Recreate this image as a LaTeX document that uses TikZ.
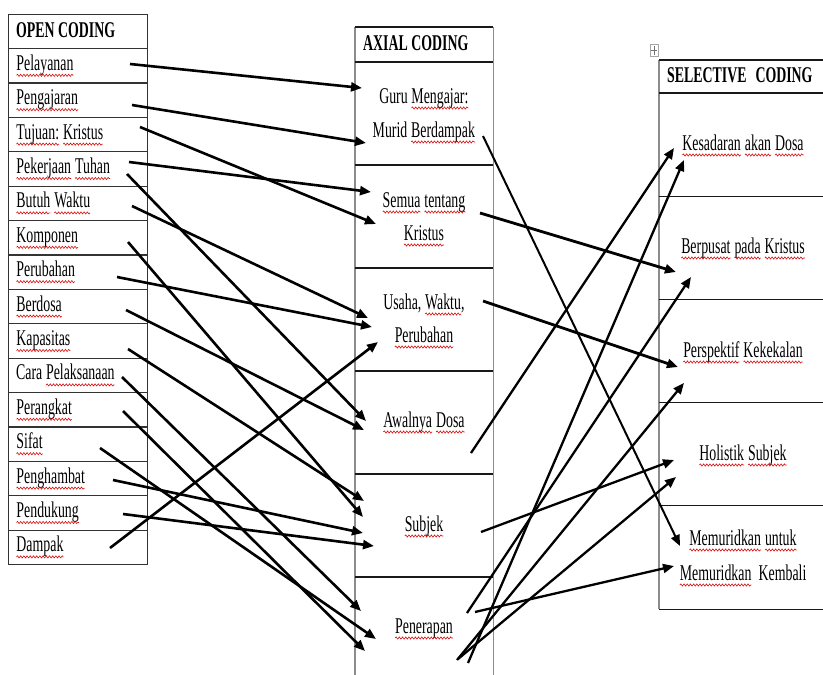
\documentclass[tikz,border=0pt]{standalone}
\usepackage{fontspec}
\setmainfont{Liberation Serif}[FakeStretch=0.616]
\usetikzlibrary{arrows.meta,decorations.pathmorphing}
\newcommand\sq[1]{\tikz[baseline=(sqw.base)]{\node[inner sep=0pt, outer sep=0pt, anchor=base, draw=none, fill=none] (sqw) {#1};\draw[red!85!black, line width=0.55pt, decorate, decoration={snake, amplitude=1.1pt, segment length=3.2pt}] ([yshift=-5pt]sqw.base west) -- ([yshift=-5pt]sqw.base east);}}
\tikzset{
  txt/.style={inner sep=0pt, font=\fontsize{22.5}{34}\selectfont, text=black},
  ltxt/.style={txt, anchor=base west},
  ctxt/.style={txt, anchor=base},
  hdtxt/.style={txt, anchor=base west, font=\fontsize{22.5}{34}\selectfont\bfseries},
  lcell/.style={draw=black!80, line width=1.1pt, anchor=north west, minimum width=139pt, minimum height=34.4pt, inner sep=0pt},
  shell/.style={draw=none, anchor=north west, inner sep=0pt},
  hline/.style={draw=black!90, line width=1.1pt},
  vline/.style={draw=black!45, line width=1.1pt},
  arr/.style={draw=black, line width=2.6pt, -{Triangle[length=11pt,width=9pt]}},
  arrR/.style={draw=black, line width=2.3pt, -{Triangle[length=11pt,width=9pt]}},
}
\begin{document}
\begin{tikzpicture}[x=1pt,y=-1pt]
\useasboundingbox (0,0) rectangle (823,675);
\clip (0,0) rectangle (823,675);
\fill[white] (0,0) rectangle (823,675);

% ---------- left table ----------
\node[lcell, minimum height=34pt] (L0) at (8,14) {};
\foreach \i in {1,...,15}{
  \node[lcell] (L\i) at (8,{48+(\i-1)*34.4}) {};
}
\node[hdtxt] (Lh) at (16,37.3) {OPEN CODING};
\node[ltxt] (t1) at (16,70.3) {\sq{Pelayanan}};
\node[ltxt] (t2) at (16,104.7) {\sq{Pengajaran}};
\node[ltxt] (t3) at (16,139.1) {\sq{Tujuan:} \sq{Kristus}};
\node[ltxt] (t4) at (16,173.5) {\sq{Pekerjaan} \sq{Tuhan}};
\node[ltxt] (t5) at (16,207.9) {\sq{Butuh} \sq{Waktu}};
\node[ltxt] (t6) at (16,242.3) {\sq{Komponen}};
\node[ltxt] (t7) at (16,276.7) {\sq{Perubahan}};
\node[ltxt] (t8) at (16,311.1) {\sq{Berdosa}};
\node[ltxt] (t9) at (16,345.5) {\sq{Kapasitas}};
\node[ltxt] (t10) at (16,379.9) {Cara \sq{Pelaksanaan}};
\node[ltxt] (t11) at (16,414.3) {\sq{Perangkat}};
\node[ltxt] (t12) at (16,448.7) {\sq{Sifat}};
\node[ltxt] (t13) at (16,483.1) {\sq{Penghambat}};
\node[ltxt] (t14) at (16,517.5) {\sq{Pendukung}};
\node[ltxt] (t15) at (16,551.9) {\sq{Dampak}};

% ---------- middle table ----------
\node[shell, minimum width=138pt, minimum height=35pt] (M0) at (355,27) {};
\foreach \i in {1,...,6}{
  \node[shell, minimum width=138pt, minimum height=103pt] (M\i) at (355,{62+(\i-1)*103}) {};
}
\draw[vline] (M0.north west) -- (M6.south west);
\draw[vline] (M0.north east) -- (M6.south east);
\foreach \i in {0,...,6}{
  \draw[hline] (M\i.north west) -- (M\i.north east);
}
\node[hdtxt] (Mh) at (363,50) {AXIAL CODING};
\node[ctxt] (m1a) at (424,103) {Guru \sq{Mengajar:}};
\node[ctxt] (m1b) at (424,137) {Murid \sq{Berdampak}};
\node[ctxt] (m2a) at (424,207) {\sq{Semua} \sq{tentang}};
\node[ctxt] (m2b) at (424,240) {\sq{Kristus}};
\node[ctxt] (m3a) at (424,309) {Usaha, \sq{Waktu},};
\node[ctxt] (m3b) at (424,342) {\sq{Perubahan}};
\node[ctxt] (m4) at (424,427) {\sq{Awalnya} \sq{Dosa}};
\node[ctxt] (m5) at (424,531) {\sq{Subjek}};
\node[ctxt] (m6) at (424,633) {\sq{Penerapan}};

% ---------- right table ----------
\node[shell, minimum width=168pt, minimum height=33pt] (R0) at (659,60) {};
\foreach \i in {1,...,5}{
  \node[shell, minimum width=168pt, minimum height=103.2pt] (R\i) at (659,{93+(\i-1)*103.2}) {};
}
\draw[vline] (R0.north west) -- (R5.south west);
\draw[vline] (R0.north east) -- (R5.south east);
\foreach \i in {0,...,5}{
  \draw[hline] (R\i.north west) -- (R\i.north east);
}
\draw[hline] (R5.south west) -- (R5.south east);
\node[draw=black!35, line width=0.6pt, fill=white, minimum width=8pt, minimum height=12pt, inner sep=0pt] (mv) at (654,50.5) {};
\draw[black!55, line width=0.6pt] ([yshift=-2pt]mv.north) -- ([yshift=2pt]mv.south);
\draw[black!55, line width=0.6pt] ([xshift=1.5pt]mv.west) -- ([xshift=-1.5pt]mv.east);
\node[hdtxt] (Rh) at (667,82) {SELECTIVE\hspace{9pt}CODING};
\node[ctxt] (r1) at (743,150) {\sq{Kesadaran} \sq{akan} \sq{Dosa}};
\node[ctxt] (r2) at (743,253) {\sq{Berpusat} \sq{pada} \sq{Kristus}};
\node[ctxt] (r3) at (743,357) {\sq{Perspektif} \sq{Kekekalan}};
\node[ctxt] (r4) at (743,460) {\sq{Holistik} \sq{Subjek}};
\node[ctxt] (r5a) at (743,545) {\sq{Memuridkan} \sq{untuk}};
\node[ctxt] (r5b) at (743,580) {\sq{Memuridkan}\hspace{7pt}Kembali};

% ---------- connector end points ----------
\coordinate (a1s) at (130,64);   \coordinate (a1e) at (362,88);
\coordinate (a2s) at (132,105);  \coordinate (a2e) at (366,143);
\coordinate (a3s) at (140,127);  \coordinate (a3e) at (376,224);
\coordinate (a4s) at (129,162);  \coordinate (a4e) at (371,192);
\coordinate (a5s) at (127,174);  \coordinate (a5e) at (366,421);
\coordinate (a6s) at (132,206);  \coordinate (a6e) at (368,318);
\coordinate (a7s) at (128,242);  \coordinate (a7e) at (363,517);
\coordinate (a8s) at (117,277);  \coordinate (a8e) at (372,327);
\coordinate (a9s) at (126,310);  \coordinate (a9e) at (364,430);
\coordinate (a10s) at (128,349); \coordinate (a10e) at (364,501);
\coordinate (a11s) at (122,377); \coordinate (a11e) at (361,611);
\coordinate (a12s) at (123,411); \coordinate (a12e) at (365,651);
\coordinate (a13s) at (100,448); \coordinate (a13e) at (376,639);
\coordinate (a14s) at (113,480); \coordinate (a14e) at (363,533);
\coordinate (a15s) at (123,514); \coordinate (a15e) at (374,546);
\coordinate (a16s) at (110,548); \coordinate (a16e) at (378,342);

\coordinate (b1s) at (483,136);  \coordinate (b1e) at (680,546);
\coordinate (b2s) at (480,213);  \coordinate (b2e) at (676,272);
\coordinate (b3s) at (483,301);  \coordinate (b3e) at (678,367);
\coordinate (b4s) at (471,453);  \coordinate (b4e) at (674,148);
\coordinate (b5s) at (481,532);  \coordinate (b5e) at (674,460);
\coordinate (b6s) at (468,663);  \coordinate (b6e) at (684,160);
\coordinate (b7s) at (467,613);  \coordinate (b7e) at (691,277);
\coordinate (b8s) at (457,660);  \coordinate (b8e) at (684,383);
\coordinate (b9s) at (458,659);  \coordinate (b9e) at (676,477);
\coordinate (b10s) at (475,612); \coordinate (b10e) at (674,566);

\foreach \k in {1,...,16}{ \draw[arr] (a\k s) -- (a\k e); }
\draw[arrR, line width=2pt] (b1s) -- (b1e);
\draw[arrR, line width=2.8pt] (b2s) -- (b2e);
\draw[arrR, line width=2.8pt] (b3s) -- (b3e);
\foreach \k in {4,...,10}{ \draw[arrR] (b\k s) -- (b\k e); }
\end{tikzpicture}
\end{document}
